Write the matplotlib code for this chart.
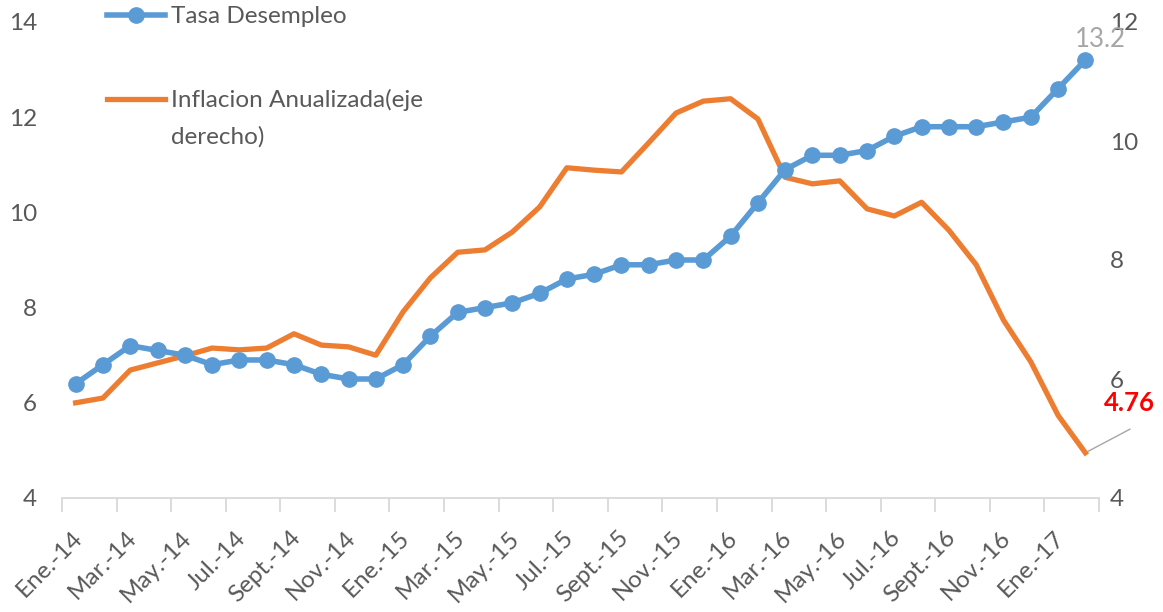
import matplotlib
matplotlib.use("Agg")
import matplotlib.pyplot as plt
import matplotlib.transforms as mtransforms
import numpy as np

plt.rcParams['font.family'] = ['Lato', 'DejaVu Sans']

months = ["Ene.", "Feb.", "Mar.", "Abr.", "May.", "Jun.", "Jul.", "Ago.", "Sept.", "Oct.", "Nov.", "Dic."]
categories = [f"{m}-{y}" for y in ("14", "15", "16") for m in months] + ["Ene.-17", "Feb.-17"]

desempleo = [6.4, 6.8, 7.2, 7.1, 7.0, 6.8, 6.9, 6.9, 6.8, 6.6, 6.5, 6.5,
             6.8, 7.4, 7.9, 8.0, 8.1, 8.3, 8.6, 8.7, 8.9, 8.9, 9.0, 9.0,
             9.5, 10.2, 10.9, 11.2, 11.2, 11.3, 11.6, 11.8, 11.8, 11.8, 11.9, 12.0,
             12.6, 13.2]
inflacion = [5.60, 5.68, 6.15, 6.27, 6.39, 6.52, 6.49, 6.52, 6.76, 6.57, 6.54, 6.40,
             7.13, 7.70, 8.13, 8.17, 8.47, 8.89, 9.55, 9.51, 9.48, 9.97, 10.47, 10.67,
             10.71, 10.37, 9.39, 9.28, 9.33, 8.86, 8.74, 8.97, 8.50, 7.92, 6.99, 6.29,
             5.39, 4.76]

label_desempleo = "Tasa Desempleo"
label_inflacion = "Inflacion Anualizada(eje derecho)"

BLUE = "#5B9BD5"
ORANGE = "#ED7D31"
GRAY = "#595959"
AXIS = "#D9D9D9"
FS = 17.5

fig = plt.figure(figsize=(11.63, 6.12), dpi=100)
ax = fig.add_axes([62/1163, 1-498/612, (1099-62)/1163, (498-22)/612])
ax2 = ax.twinx()

x = np.arange(len(categories))
l1, = ax.plot(x, desempleo, color=BLUE, lw=4.0, marker='o', ms=11, zorder=3,
              label=label_desempleo)
l2, = ax2.plot(x, inflacion, color=ORANGE, lw=3.8, zorder=2, label=label_inflacion)

ax.set_xlim(-0.5, len(categories) - 0.5)
ax.set_ylim(4, 14)
ax.set_yticks(np.arange(4, 15, 2))
ax2.set_ylim(4, 12)
ax2.set_yticks(np.arange(4, 13, 2))

for a in (ax, ax2):
    for s in a.spines.values():
        s.set_visible(False)
ax.spines['bottom'].set_visible(True)
ax.spines['bottom'].set_color(AXIS)
ax.spines['bottom'].set_linewidth(1.3)

ax.tick_params(axis='y', length=0, pad=18, labelsize=FS, labelcolor=GRAY)
ax2.tick_params(axis='y', length=0, pad=8, labelsize=FS, labelcolor=GRAY)

# x ticks: labels every 2 months, tick marks at boundaries
ax.set_xticks(x[::2])
ax.set_xticklabels(categories[::2], rotation=45, ha='right', rotation_mode='anchor',
                   fontsize=FS, color=GRAY)
ax.tick_params(axis='x', which='major', length=0, pad=21)
shift = mtransforms.ScaledTranslation(-4/100, 0, fig.dpi_scale_trans)
for lab in ax.get_xticklabels():
    lab.set_transform(lab.get_transform() + shift)
ax.set_xticks(np.arange(-0.5, len(categories), 2), minor=True)
ax.tick_params(axis='x', which='minor', length=10, width=1.3, color=AXIS, direction='out')
ax.set_zorder(ax2.get_zorder() + 1)
ax.patch.set_visible(False)

# data labels
ax.annotate(f"{desempleo[-1]:.1f}", xy=(x[-1], desempleo[-1]), xytext=(11, 6),
            textcoords='offset points', ha='center', va='bottom', fontsize=FS + 1,
            color="#A6A6A6")
ax2.annotate(f"{inflacion[-1]:.2f}", xy=(x[-1], inflacion[-1]), xytext=(32, 36),
             textcoords='offset points', ha='center', va='center', fontsize=FS + 1,
             color="#FF0000", fontweight='bold')
ax2.annotate("", xy=(x[-1], inflacion[-1]), xytext=(34, 18), textcoords='offset points',
             arrowprops=dict(arrowstyle='-', color="#A6A6A6", lw=1.0))

leg = ax.legend([l1, l2], [label_desempleo, "Inflacion Anualizada(eje"],
                loc='upper left', bbox_to_anchor=(107/1163, 1-6/612),
                bbox_transform=fig.transFigure, frameon=False, fontsize=FS,
                handlelength=2.4, handletextpad=0.25, labelspacing=2.55,
                labelcolor=GRAY, borderaxespad=0, borderpad=0)
ax.annotate("derecho)", xy=(0, 0), xycoords=leg.get_texts()[1], xytext=(0, -11),
            textcoords='offset points', ha='left', va='top', fontsize=FS, color=GRAY,
            zorder=10)

fig.savefig("out.png", dpi=100)
